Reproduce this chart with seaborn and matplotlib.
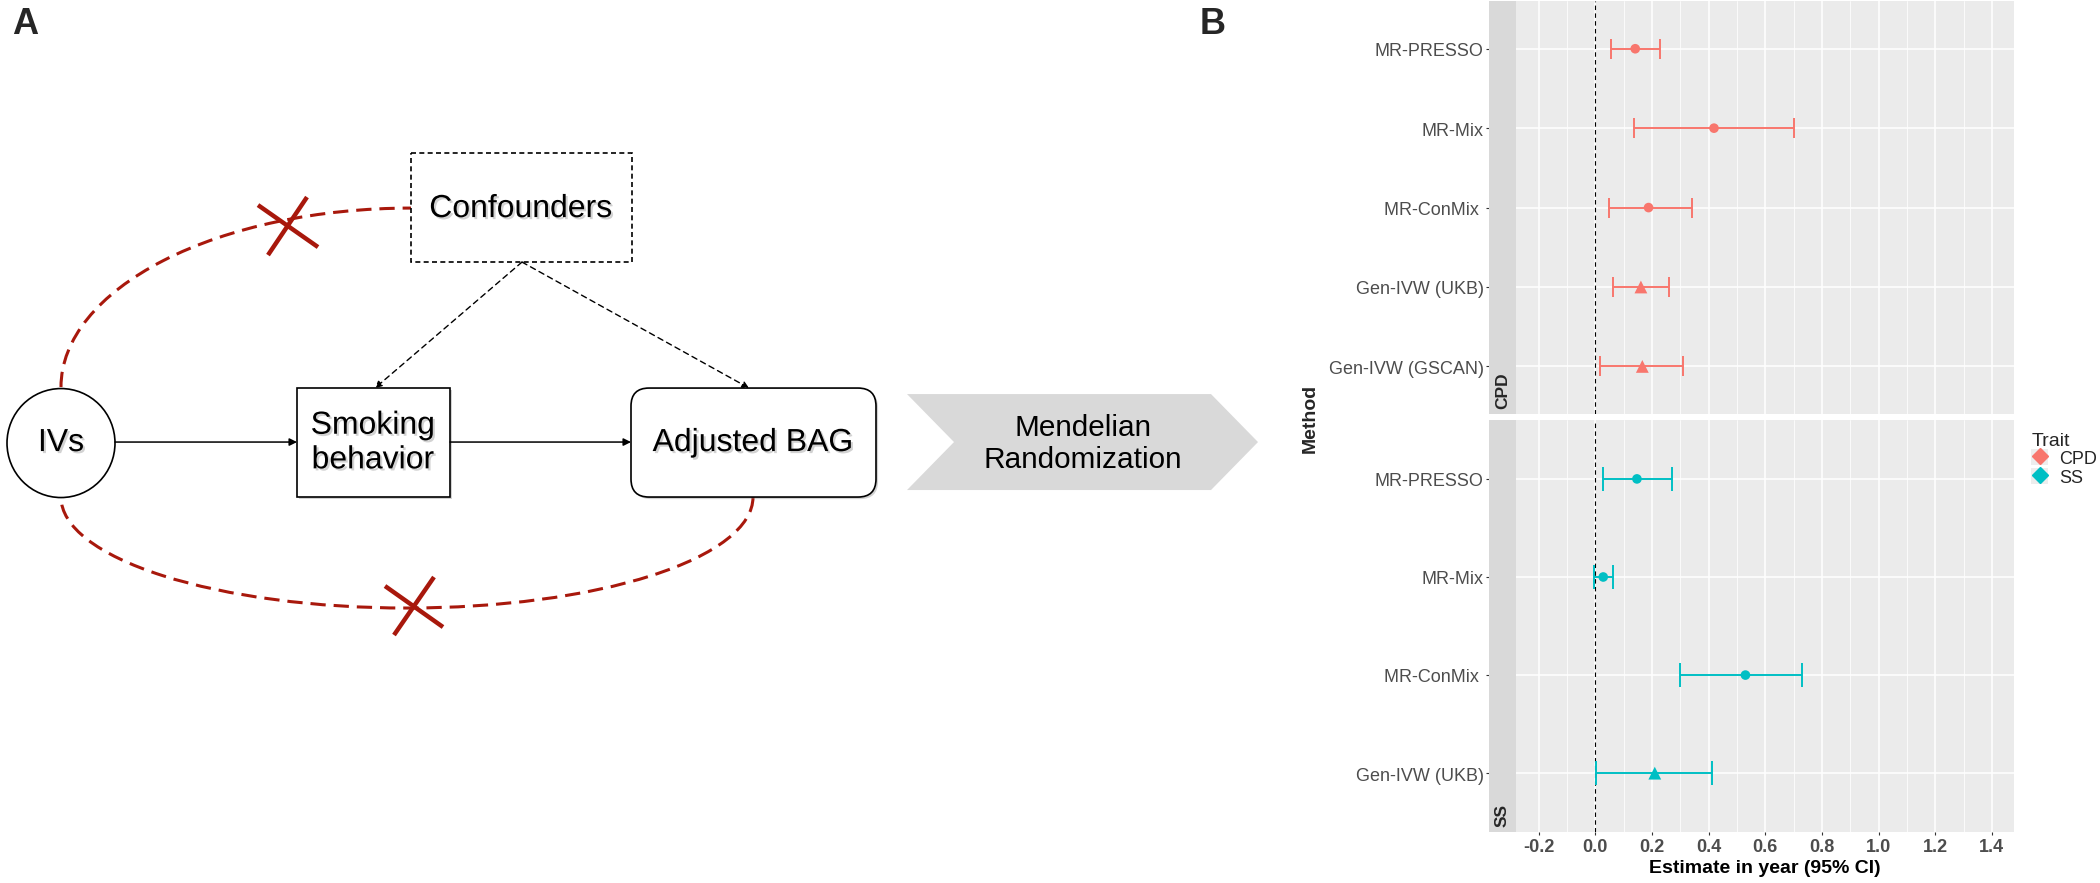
import matplotlib
matplotlib.use("Agg")
import matplotlib.pyplot as plt
import matplotlib.patheffects as pe
from matplotlib.patches import Rectangle, FancyBboxPatch, Ellipse, Arc, Polygon, Patch
from matplotlib.lines import Line2D
from matplotlib.legend_handler import HandlerTuple
from matplotlib.ticker import MultipleLocator
import seaborn as sns
import numpy as np
import pandas as pd

# --- data (panel B)
traits = ["CPD", "SS"]
methods_cpd = ["MR-PRESSO", "MR-Mix", "MR-ConMix ", "Gen-IVW (UKB)", "Gen-IVW (GSCAN)"]
est_cpd = [0.141, 0.419, 0.188, 0.161, 0.166]
lo_cpd = [0.055, 0.137, 0.049, 0.062, 0.017]
hi_cpd = [0.227, 0.701, 0.340, 0.259, 0.311]
type_cpd = ["MR", "MR", "MR", "Gen-IVW", "Gen-IVW"]

methods_ss = ["MR-PRESSO", "MR-Mix", "MR-ConMix ", "Gen-IVW (UKB)"]
est_ss = [0.147, 0.028, 0.530, 0.210]
lo_ss = [0.027, -0.005, 0.300, 0.004]
hi_ss = [0.270, 0.062, 0.730, 0.411]
type_ss = ["MR", "MR", "MR", "Gen-IVW"]

x_ticks = [-0.2, 0.0, 0.2, 0.4, 0.6, 0.8, 1.0, 1.2, 1.4]
palette = {"CPD": "#F8766D", "SS": "#00BFC4"}

df = pd.concat([
    pd.DataFrame({"Trait": "CPD", "Method": methods_cpd, "est": est_cpd,
                  "lo": lo_cpd, "hi": hi_cpd, "Type": type_cpd}),
    pd.DataFrame({"Trait": "SS", "Method": methods_ss, "est": est_ss,
                  "lo": lo_ss, "hi": hi_ss, "Type": type_ss}),
], ignore_index=True)
df["pos"] = df.groupby("Trait").cumcount()

sns.set_theme(style="white")
plt.rcParams["font.family"] = ["Liberation Sans", "DejaVu Sans"]

W, H = 2100, 884
fig = plt.figure(figsize=(21, 8.839), dpi=100)

# --- panel A : schematic, drawn in pixel coordinates
axd = fig.add_axes([0, 0, 1, 1], zorder=0)
axd.set_xlim(0, W)
axd.set_ylim(H, 0)
axd.axis("off")

red = "#A8180C"
shadow = [pe.withSimplePatchShadow(offset=(1.5, -1.5), shadow_rgbFace="0.5", alpha=0.35)]

axd.add_patch(Arc((411, 388), 700, 358, theta1=180, theta2=270, color=red, lw=2.2,
                  linestyle=(0, (5, 2.6))))
axd.add_patch(Arc((407, 498), 692, 222, theta1=0, theta2=180, color=red, lw=2.2,
                  linestyle=(0, (5, 2.6))))
for (x0, y0, x1, y1) in [(258, 206, 318, 248), (307, 198, 268, 256),
                         (385, 587, 443, 628), (434, 578, 394, 636)]:
    axd.plot([x0, x1], [y0, y1], color=red, lw=3.2, solid_capstyle="butt")

axd.add_patch(Ellipse((61, 444), 108, 109, facecolor="white", edgecolor="black", lw=1.2, zorder=3))
axd.add_patch(Rectangle((297, 389), 153, 109, facecolor="white", edgecolor="black", lw=1.2,
                        zorder=3, path_effects=shadow))
axd.add_patch(FancyBboxPatch((631, 389), 245, 109, boxstyle="round,pad=0,rounding_size=18",
                             facecolor="white", edgecolor="black", lw=1.2, zorder=3,
                             path_effects=shadow))
axd.add_patch(Rectangle((411, 154), 221, 109, facecolor="none", edgecolor="black", lw=1.2,
                        linestyle=(0, (3, 2)), zorder=3))

arrow_solid = dict(arrowstyle="-|>", color="black", lw=1.1, mutation_scale=11, shrinkA=0, shrinkB=0)
arrow_dash = dict(arrowstyle="-|>", color="black", lw=1.0, mutation_scale=10, shrinkA=0, shrinkB=0,
                  linestyle=(0, (4, 3)))
axd.annotate("", xy=(297, 443), xytext=(115, 443), arrowprops=arrow_solid)
axd.annotate("", xy=(631, 443), xytext=(450, 443), arrowprops=arrow_solid)
axd.annotate("", xy=(375, 389), xytext=(522, 263), arrowprops=arrow_dash)
axd.annotate("", xy=(749, 389), xytext=(522, 263), arrowprops=arrow_dash)

axd.add_patch(Polygon([(907, 395), (1211, 395), (1258, 443), (1211, 491), (907, 491), (954, 443)],
                      closed=True, facecolor="#D9D9D9", edgecolor="none"))

txt = dict(ha="center", va="center", color="black", fontsize=23, path_effects=shadow, zorder=5)
axd.text(521, 210, "Confounders", **txt)
axd.text(61, 444, "IVs", **txt)
axd.text(373, 444, "Smoking\nbehavior", linespacing=1.2, **txt)
axd.text(753, 444, "Adjusted BAG", **txt)
axd.text(1083, 444, "Mendelian\nRandomization", ha="center", va="center", fontsize=21.4,
         linespacing=1.2, color="black")

axd.text(25, 25, "A", ha="center", va="center", fontsize=26, fontweight="bold")
axd.text(1213, 25, "B", ha="center", va="center", fontsize=26, fontweight="bold")

# --- panel B : faceted forest plot
xmin, xmax, strip_edge = -0.3752, 1.478, -0.2799
left, width = 1489 / W, (2014 - 1489) / W
panels = {"CPD": (2, 415), "SS": (421, 833)}

axes = {}
for trait in traits:
    top, bot = panels[trait]
    ax = fig.add_axes([left, 1 - bot / H, width, (bot - top) / H], zorder=2)
    axes[trait] = ax
    sub = df[df["Trait"] == trait]
    n = len(sub)
    ax.set_facecolor("#EBEBEB")
    ax.set_xlim(xmin, xmax)
    ax.set_ylim(n - 0.4, -0.6)

    ax.xaxis.set_major_locator(MultipleLocator(0.2))
    ax.xaxis.set_minor_locator(MultipleLocator(0.1))
    ax.set_xticks(x_ticks)
    ax.set_xticklabels([f"{t:.1f}" for t in x_ticks])
    ax.set_yticks(sub["pos"])
    ax.set_yticklabels(sub["Method"])
    ax.grid(which="major", color="white", lw=1.1)
    ax.grid(which="minor", axis="x", color="white", lw=0.55)
    ax.set_axisbelow(True)
    for s in ax.spines.values():
        s.set_visible(False)

    ax.axvline(0, color="black", lw=0.8, linestyle=(0, (4, 3)), zorder=2)

    # errorbar cap half-height = 0.125 category units, converted to points
    px_per_unit = (bot - top) / (n - 1 + 1.2)
    cap = 0.125 * px_per_unit * 72 / 100
    ax.errorbar(sub["est"], sub["pos"], xerr=[sub["est"] - sub["lo"], sub["hi"] - sub["est"]],
                fmt="none", ecolor=palette[trait], elinewidth=1.4, capsize=cap, capthick=1.4,
                zorder=3)
    sns.scatterplot(data=sub, x="est", y="pos", hue="Trait", palette=palette,
                    style="Type", markers={"MR": "o", "Gen-IVW": "^"},
                    size="Type", sizes={"MR": 48, "Gen-IVW": 85},
                    linewidth=0, legend=False, ax=ax, zorder=4)
    ax.set_xlabel("")
    ax.set_ylabel("")

    # facet strip on the left, inside the panel
    ax.add_patch(Rectangle((xmin, 0), strip_edge - xmin, 1, transform=ax.get_xaxis_transform(),
                           facecolor="#D9D9D9", edgecolor="none", zorder=2.5))
    ax.text((xmin + strip_edge) / 2, 0.015, trait, transform=ax.get_xaxis_transform(),
            rotation=90, ha="center", va="bottom", fontsize=12.5, fontweight="bold", zorder=3)

    ax.tick_params(axis="y", length=2.2, width=0.8, color="#333333", pad=1.5,
                   labelsize=13, labelcolor="#4D4D4D", left=True)
    ax.tick_params(axis="x", which="major", length=2.2, width=0.8, color="#333333", pad=2,
                   labelsize=13, labelcolor="#4D4D4D", bottom=True)
    ax.tick_params(axis="x", which="minor", length=0)

axes["CPD"].tick_params(axis="x", which="major", length=0, labelbottom=False)
for lab in axes["SS"].get_xticklabels():
    lab.set_fontweight("bold")
axes["SS"].set_xlabel("Estimate in year (95% CI)", fontsize=14, fontweight="bold",
                      labelpad=3, color="black")
axes["SS"].xaxis.set_label_coords((1765 - 1489) / (2014 - 1489), -0.065)
fig.text(1310 / W, 1 - 418 / H, "Method", rotation=90, ha="center", va="center",
         fontsize=14, fontweight="bold")

# legend with grey key background
handles = [(Patch(facecolor="#EDEDED", edgecolor="none"),
            Line2D([], [], marker="D", color=palette[t], linestyle="none", markersize=8.5))
           for t in traits]
leg = fig.legend(handles, traits, handler_map={tuple: HandlerTuple(ndivide=1)},
                 title="Trait", loc="upper left", bbox_to_anchor=(2024 / W, 1 - 426 / H),
                 frameon=False, fontsize=13, title_fontsize=14, handlelength=0.95,
                 handleheight=1.0, handletextpad=0.6, labelspacing=0.0, borderaxespad=0,
                 alignment="left")

fig.savefig("out.png", dpi=100, facecolor="white")
